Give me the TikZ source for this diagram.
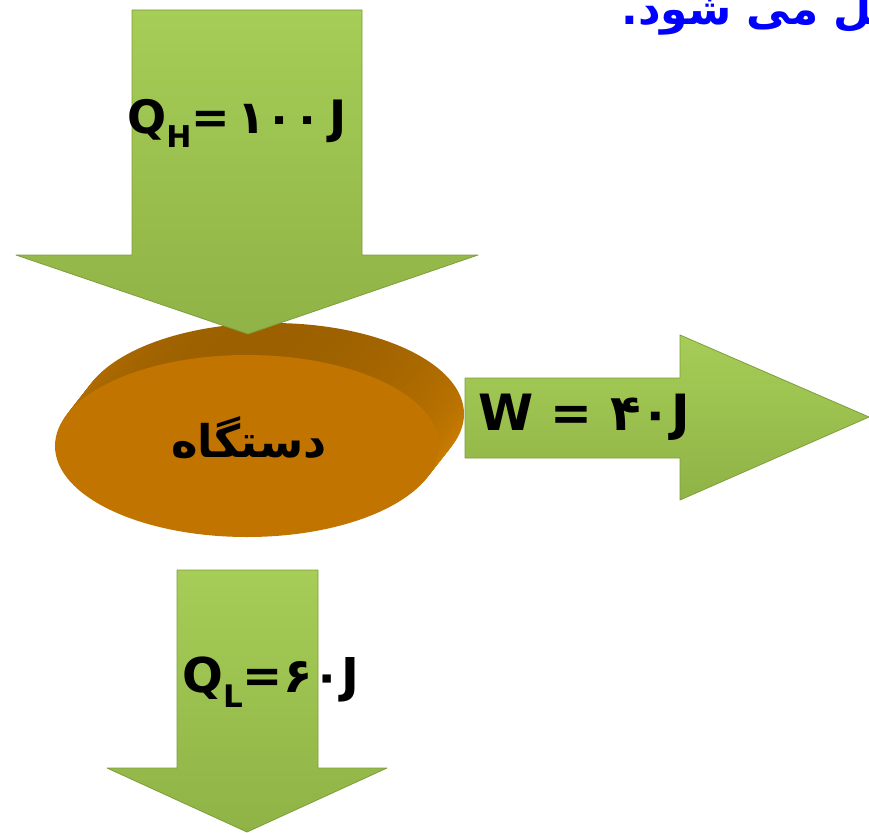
\documentclass[tikz,border=0pt]{standalone}
\usepackage{fontspec}
\TeXXeTstate=1
\newfontfamily\latf{DejaVu Sans}
\newfontfamily\arabicfont[Script=Arabic]{DejaVu Sans}
\definecolor{gtop}{HTML}{A6CD57}
\definecolor{gbot}{HTML}{8FB346}
\definecolor{gedge}{HTML}{7E9E3C}
\definecolor{rimdark}{HTML}{9C6000}
\definecolor{rimlight}{HTML}{E58D00}
\definecolor{facec}{HTML}{C27400}
\definecolor{bluet}{HTML}{0000FF}
\tikzset{
  arrowshape/.style={top color=gtop, bottom color=gbot, draw=gedge, line width=0.8pt, line join=round},
  lbl/.style={inner sep=0pt, text=black},
}
\begin{document}
\begin{tikzpicture}[x=1pt,y=-1pt]
\useasboundingbox (0,0) rectangle (869,832);
\fill[white] (0,0) rectangle (869,832);
% blue caption, cut by the picture edge
\begin{scope}
\clip (0,0) rectangle (869,832);
\node[anchor=base east, inner sep=0pt, text=bluet] (cap) at (890,25)
  {\arabicfont\bfseries\fontsize{44}{48}\selectfont\beginR یل می شود.\endR};
\end{scope}
% device disk
\foreach \i in {20,19,...,1}
  \shade[top color=rimdark, bottom color=rimlight] (247+1.25*\i,446-1.6*\i) ellipse[x radius=192, y radius=91];
\fill[facec] (247,446) ellipse[x radius=192, y radius=91];
\node[lbl] (dev) at (249,438) {\arabicfont\bfseries\fontsize{45}{48}\selectfont\beginR دستگاه\endR};
% top arrow Q_H
\path[arrowshape] (132,10) -- (362,10) -- (362,255) -- (478,255) -- (248,334) -- (16,255) -- (132,255) -- cycle;
\node[lbl, anchor=base] (qh) at (237,133)
  {\latf\bfseries\fontsize{46}{50}\selectfont Q\raisebox{-0.32em}{\fontsize{30}{32}\selectfont H}=\,{\arabicfont ۱۰۰}\,J};
% right arrow W
\path[arrowshape] (465,378) -- (680,378) -- (680,335) -- (869,417) -- (680,500) -- (680,458) -- (465,458) -- cycle;
\node[lbl, anchor=base] (w) at (584,430)
  {\latf\bfseries\fontsize{50}{54}\selectfont W = {\arabicfont ۴۰}J};
% bottom arrow Q_L
\path[arrowshape] (177,570) -- (318,570) -- (318,768) -- (387,768) -- (247,832) -- (107,768) -- (177,768) -- cycle;
\node[lbl, anchor=base] (ql) at (271,692)
  {\latf\bfseries\fontsize{48}{52}\selectfont Q\raisebox{-0.32em}{\fontsize{31}{33}\selectfont L}={\arabicfont ۶۰}J};
\end{tikzpicture}
\end{document}
